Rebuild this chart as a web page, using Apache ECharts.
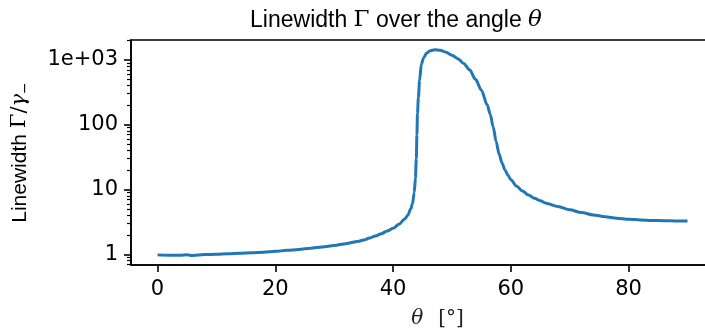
<!DOCTYPE html>
<html>
<head>
<meta charset="utf-8">
<script src="https://cdn.jsdelivr.net/npm/echarts@6/dist/echarts.min.js"></script>
<style>html,body{margin:0;padding:0;background:#fff;}#c{width:705px;height:331px;}</style>
</head>
<body>
<div id="c"></div>
<script>
// angle theta in degrees
const theta = [0, 2, 4, 5, 6, 8, 10, 12, 14, 16, 18, 20, 22, 24, 26, 28, 30, 32, 34, 35, 36, 37, 38, 39, 40, 41, 42, 42.5, 43, 43.3, 43.6, 43.8, 43.95, 44.05, 44.15, 44.3, 44.5, 44.8, 45.2, 45.7, 46.3, 47.1, 48, 49, 50, 51, 52, 53, 54, 55, 56, 56.5, 57, 57.5, 58, 58.5, 59, 59.5, 60, 61, 62, 63, 64, 65, 66, 68, 70, 72, 74, 76, 78, 80, 82, 84, 86, 88, 90];
// linewidth Gamma / gamma_-
const gamma = [0.98, 0.97, 0.97, 0.98, 0.96, 0.99, 1.0, 1.02, 1.04, 1.06, 1.08, 1.11, 1.15, 1.19, 1.24, 1.3, 1.37, 1.46, 1.58, 1.66, 1.78, 1.92, 2.08, 2.28, 2.52, 2.9, 3.5, 4.0, 5.0, 6.0, 9, 15, 30, 70, 150, 260, 480, 850, 1080, 1270, 1380, 1430, 1400, 1310, 1180, 1040, 880, 700, 500, 340, 200, 145, 93, 55, 35.5, 25.7, 20, 16.6, 14.1, 11.2, 9.45, 8.2, 7.3, 6.7, 6.15, 5.45, 4.85, 4.4, 4.05, 3.8, 3.6, 3.47, 3.39, 3.33, 3.3, 3.27, 3.26];
const xTicks = [0, 20, 40, 60, 80];
const yMajor = [1, 10, 100, 1000];
const yLabels = ['1', '10', '100', '1e+03'];
const yMinor = [0.7, 0.8, 0.9, 2, 3, 4, 5, 6, 7, 8, 9, 20, 30, 40, 50, 60, 70, 80, 90, 200, 300, 400, 500, 600, 700, 800, 900, 2000];

const chart = echarts.init(document.getElementById('c'), null, {renderer: 'canvas'});
const tickFont = {fontFamily: 'DejaVu Sans', fontSize: 21, color: '#000'};
const labelFont = 'Liberation Sans';
const mathFont = 'DejaVu Serif';

const option = {
  animation: false,
  backgroundColor: '#fff',
  title: {
    text: 'Linewidth {m|Γ} over the angle {i|θ}',
    left: 391, top: 4, textAlign: 'center',
    textStyle: {
      fontFamily: labelFont, fontSize: 23, fontWeight: 'normal', color: '#000',
      rich: {
        m: {fontFamily: mathFont, fontSize: 23, color: '#000'},
        i: {fontFamily: mathFont, fontStyle: 'italic', fontSize: 23, color: '#000'}
      }
    }
  },
  grid: {left: 131, top: 40, right: -9, bottom: 66, show: true, borderColor: '#000', borderWidth: 1.6, outerBoundsMode: 'none'},
  xAxis: {
    type: 'value', min: -4.5, max: 94.5,
    name: '{i|θ}{n|[°]}', nameLocation: 'middle', nameGap: 44,
    nameTextStyle: {color: '#000', padding: [0, 0, 0, 30], rich: {
      i: {fontFamily: mathFont, fontStyle: 'italic', fontSize: 20, color: '#222'},
      n: {fontFamily: mathFont, fontSize: 20, color: '#222', padding: [0, 0, 0, 15]}
    }},
    axisLine: {onZero: false, lineStyle: {color: '#000', width: 1.6}},
    axisTick: {length: 7, lineStyle: {color: '#000', width: 1.6}, customValues: xTicks},
    axisLabel: Object.assign({margin: 14, customValues: xTicks}, tickFont),
    splitLine: {show: false}
  },
  yAxis: [{
    type: 'log', logBase: 10, min: 0.684, max: 2020,
    name: '{n|Linewidth }{m|Γ/}{i|γ}{s|−}', nameLocation: 'middle', nameGap: 99, nameRotate: 90,
    nameTextStyle: {color: '#000', rich: {
      n: {fontFamily: labelFont, fontSize: 21, color: '#000'},
      m: {fontFamily: mathFont, fontSize: 21, color: '#000'},
      i: {fontFamily: mathFont, fontStyle: 'italic', fontSize: 21, color: '#000'},
      s: {fontFamily: mathFont, fontSize: 14, color: '#000', padding: [10, 0, 0, 0]}
    }},
    axisLine: {show: true, onZero: false, lineStyle: {color: '#000', width: 1.6}},
    axisTick: {length: 7, lineStyle: {color: '#000', width: 1.6}, customValues: yMajor},
    axisLabel: Object.assign({margin: 13, customValues: yMajor, formatter: function (v) {
      const k = Math.round(Math.log10(v));
      const idx = yMajor.indexOf(Math.pow(10, k));
      return idx >= 0 ? yLabels[idx] : '';
    }}, tickFont),
    splitLine: {show: false},
    minorTick: {show: false}
  }, {
    type: 'log', logBase: 10, min: 0.684, max: 2020, position: 'left',
    axisLine: {show: false, onZero: false},
    axisTick: {length: 4, lineStyle: {color: '#000', width: 1.2}, customValues: yMinor},
    axisLabel: {show: false},
    splitLine: {show: false}
  }],
  series: [{
    type: 'line',
    data: theta.map((t, i) => [t, gamma[i]]),
    showSymbol: false, symbol: 'none',
    smooth: 0.3, smoothMonotone: 'x',
    lineStyle: {color: '#1f77b4', width: 3},
    yAxisIndex: 0
  }]
};
chart.setOption(option);
</script>
</body>
</html>
